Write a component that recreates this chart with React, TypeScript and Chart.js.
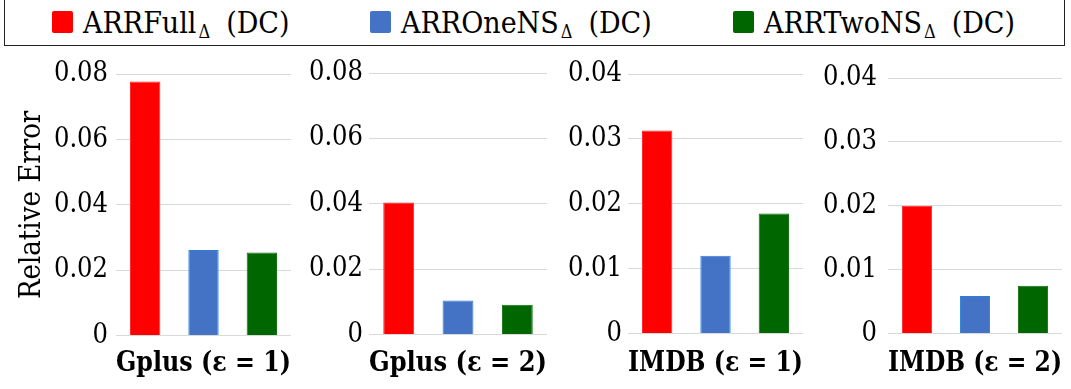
import React, { useEffect, useRef } from 'react';
import { Chart, registerables } from 'chart.js';

Chart.register(...registerables);
const FONT = '"DejaVu Serif Condensed", "DejaVu Serif", serif';
Chart.defaults.font.family = FONT;
Chart.defaults.color = '#000';

// ---- data ----
const seriesNames = ['ARRFull', 'ARROneNS', 'ARRTwoNS'];
const panelTitles = ['Gplus (ε = 1)', 'Gplus (ε = 2)', 'IMDB (ε = 1)', 'IMDB (ε = 2)'];
const arrFull = [0.0778, 0.0404, 0.0313, 0.02];
const arrOneNS = [0.0262, 0.0104, 0.012, 0.0059];
const arrTwoNS = [0.0254, 0.0091, 0.0185, 0.0075];
const yMax = [0.08, 0.08, 0.04, 0.04];
const yStep = [0.02, 0.02, 0.01, 0.01];
const yTitle = 'Relative Error';

// ---- style ----
const fills = ['#ff0000', '#4472c4', '#006600'];
const borders = ['#ff2a2a', '#2a80d6', '#127012'];
const legendItems = [
  { name: 'ARRFull', x: 52 },
  { name: 'ARROneNS', x: 370 },
  { name: 'ARRTwoNS', x: 733 },
];

// layout per panel (canvas left/width, y-axis width, paddings)
const layouts = [
  { left: 0, width: 300, yW: 116, padR: 9, padT: 23, tickPad: 8, titleTop: 10 },
  { left: 300, width: 260, yW: 69, padR: 13, padT: 23, tickPad: 6, titleTop: 11 },
  { left: 560, width: 255, yW: 68, padR: 12, padT: 24, tickPad: 6, titleTop: 12 },
  { left: 815, width: 256, yW: 73, padR: 9, padT: 28, tickPad: 11, titleTop: 12 },
];
const CANVAS_TOP = 50;
const CANVAS_H = 339;

function Panel({ idx }: { idx: number }) {
  const ref = useRef<HTMLCanvasElement | null>(null);
  const L = layouts[idx];
  useEffect(() => {
    if (!ref.current) return;
    const chart = new Chart(ref.current, {
      type: 'bar',
      data: {
        labels: seriesNames,
        datasets: [
          {
            data: [arrFull[idx], arrOneNS[idx], arrTwoNS[idx]],
            backgroundColor: fills,
            borderColor: borders,
            borderWidth: 1,
            barPercentage: 0.52,
            categoryPercentage: 1,
          },
        ],
      },
      options: {
        animation: false,
        responsive: false,
        devicePixelRatio: 1,
        layout: { padding: { left: 0, right: L.padR, top: L.padT, bottom: 9 } },
        plugins: { legend: { display: false }, tooltip: { enabled: false } },
        scales: {
          x: {
            type: 'category',
            grid: { display: false, drawTicks: false },
            border: { display: false },
            ticks: { display: false },
            title: {
              display: true,
              text: panelTitles[idx],
              color: '#000',
              font: { size: 27, weight: 'bold' },
              padding: { top: L.titleTop + 2, bottom: 0 },
            },
          },
          y: {
            min: 0,
            max: yMax[idx],
            ticks: {
              stepSize: yStep[idx],
              color: '#000',
              font: { size: 27 },
              padding: L.tickPad,
              callback: (v: any) => (Number(v) === 0 ? '0' : Number(v).toFixed(2)),
            },
            grid: { color: '#d9d9d9', lineWidth: 1, drawTicks: false },
            border: { display: false },
            title: {
              display: idx === 0,
              text: yTitle,
              color: '#000',
              font: { size: 29 },
              padding: { top: 15, bottom: 0 },
            },
            afterFit: (scale: any) => {
              scale.width = L.yW;
            },
          },
        },
      },
    });
    return () => chart.destroy();
  }, [idx]);
  return (
    <canvas
      ref={ref}
      width={L.width}
      height={CANVAS_H}
      style={{ position: 'absolute', left: L.left, top: CANVAS_TOP, width: L.width, height: CANVAS_H }}
    />
  );
}

export default function App() {
  return (
    <div
      style={{
        position: 'absolute',
        left: 0,
        top: 0,
        width: 1071,
        height: 389,
        background: '#fff',
        overflow: 'hidden',
        fontFamily: FONT,
      }}
    >
      <div
        style={{
          position: 'absolute',
          left: 4,
          top: -2,
          width: 1061,
          height: 48,
          boxSizing: 'border-box',
          border: '1px solid #222',
        }}
      />
      {legendItems.map((it, i) => (
        <React.Fragment key={it.name}>
          <div
            style={{
              position: 'absolute',
              left: it.x,
              top: 11,
              width: 21,
              height: 22,
              borderRadius: 2,
              background: fills[i],
            }}
          />
          <div
            style={{
              position: 'absolute',
              left: it.x + 31,
              top: 8,
              fontSize: 30,
              lineHeight: '30px',
              whiteSpace: 'nowrap',
              color: '#000',
            }}
          >
            {it.name}
            <span style={{ fontSize: 18, position: 'relative', top: 5, marginLeft: 2, marginRight: 16 }}>Δ</span>
            (DC)
          </div>
        </React.Fragment>
      ))}
      {layouts.map((_, i) => (
        <Panel key={i} idx={i} />
      ))}
    </div>
  );
}
